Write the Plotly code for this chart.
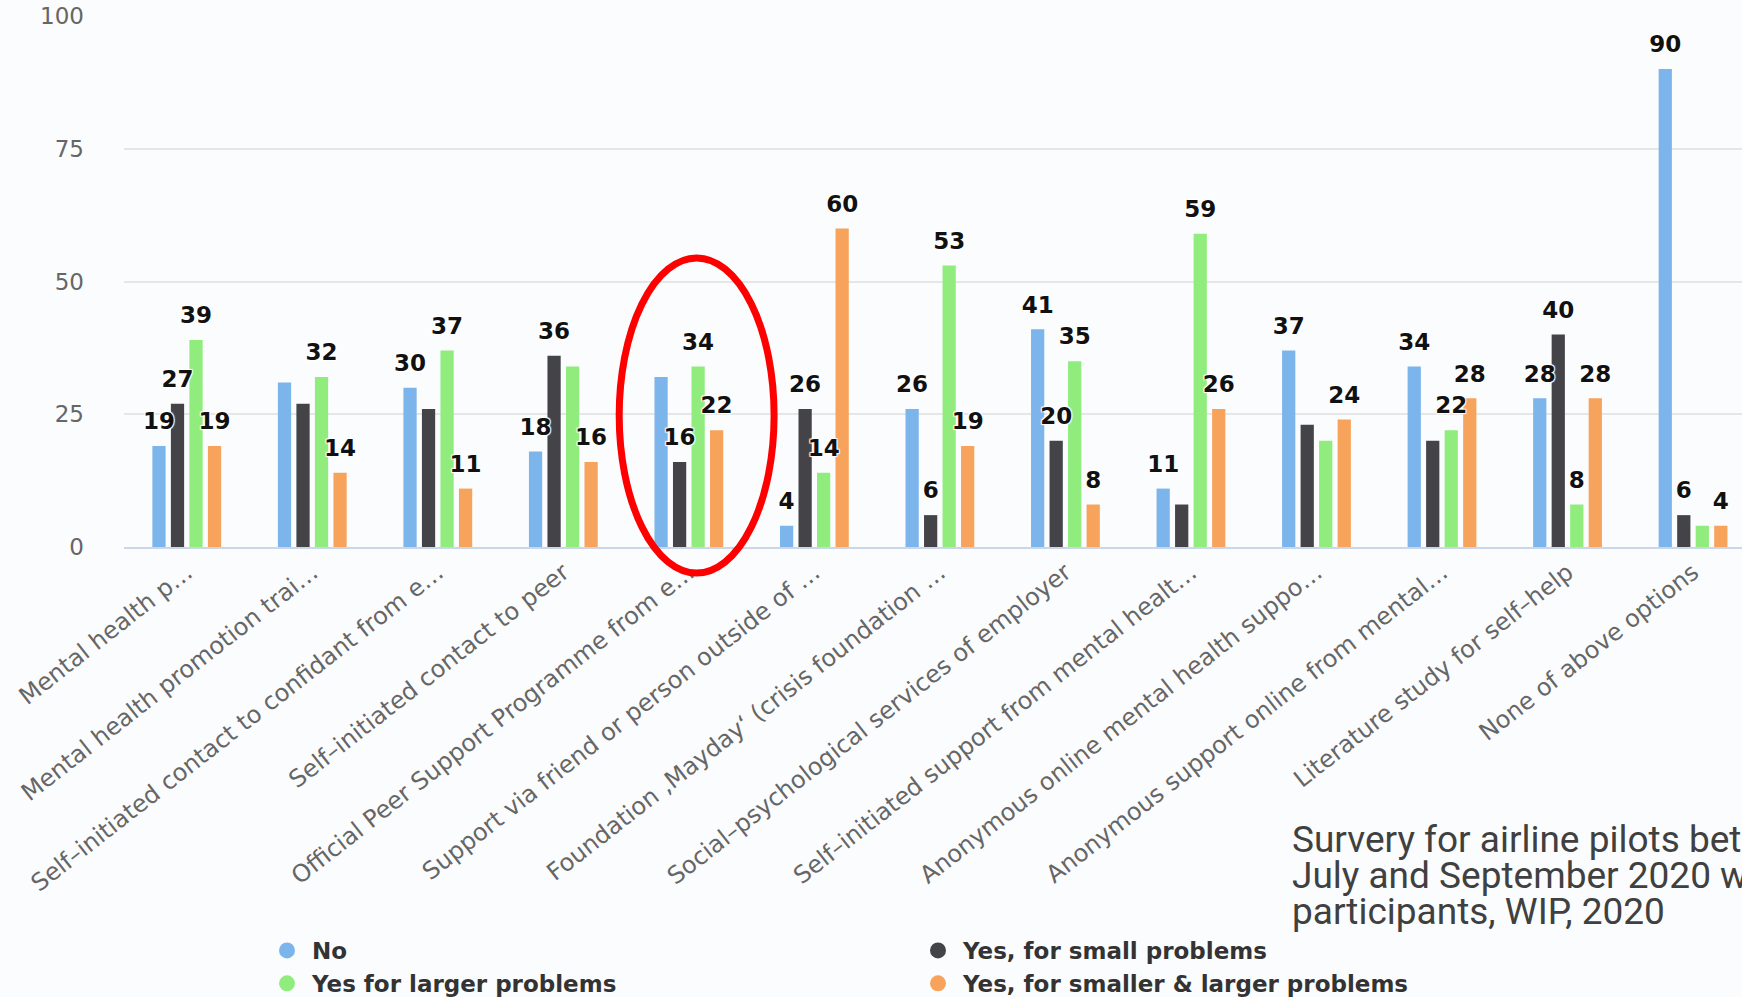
import plotly.graph_objects as go

categories = [
    "Mental health p…",
    "Mental health promotion trai…",
    "Self–initiated contact to confidant from e…",
    "Self–initiated contact to peer",
    "Official Peer Support Programme from e…",
    "Support via friend or person outside of …",
    "Foundation ‚Mayday‘ (crisis foundation …",
    "Social–psychological services of employer",
    "Self–initiated support from mental healt…",
    "Anonymous online mental health suppo…",
    "Anonymous support online from mental…",
    "Literature study for self–help",
    "None of above options",
]

series_names = ["No", "Yes, for small problems", "Yes for larger problems",
                "Yes, for smaller & larger problems"]
no_vals = [19, 31, 30, 18, 32, 4, 26, 41, 11, 37, 34, 28, 90]
small_vals = [27, 27, 26, 36, 16, 26, 6, 20, 8, 23, 20, 40, 6]
larger_vals = [39, 32, 37, 34, 34, 14, 53, 35, 59, 20, 22, 8, 4]
both_vals = [19, 14, 11, 16, 22, 60, 19, 8, 26, 24, 28, 28, 4]

# which data labels are visible in the source (others hidden by overlap)
no_shown = [1, 0, 1, 1, 0, 1, 1, 1, 1, 1, 1, 1, 1]
small_shown = [1, 0, 0, 1, 1, 1, 1, 1, 0, 0, 0, 1, 1]
larger_shown = [1, 1, 1, 0, 1, 1, 1, 1, 1, 0, 1, 1, 0]
both_shown = [1, 1, 1, 1, 1, 1, 1, 1, 1, 1, 1, 1, 1]

note_lines = ["Survery for airline pilots between",
              "July and September 2020 with",
              "participants, WIP, 2020"]

colors = ["#7cb5ec", "#434348", "#90ed7d", "#f7a35c"]
values = [no_vals, small_vals, larger_vals, both_vals]
shown = [no_shown, small_shown, larger_shown, both_shown]

W, H = 1742, 997
ML, MR, MT, MB = 124, 0, 16, 450
BARGAP = 0.41
FONT = "DejaVu Sans"

fig = go.Figure()
for i, (name, vals, col) in enumerate(zip(series_names, values, colors)):
    fig.add_trace(go.Bar(
        x=categories, y=vals, name=name, marker=dict(color=col, line_width=0),
        offsetgroup=f"s{i}", showlegend=False,
    ))
for i, (name, vals, msk) in enumerate(zip(series_names, values, shown)):
    fig.add_trace(go.Scatter(
        x=categories, y=vals, mode="markers+text",
        text=[str(v) if m else "" for v, m in zip(vals, msk)],
        textposition="top center",
        marker=dict(size=16, color="rgba(0,0,0,0)"),
        textfont=dict(family=FONT, size=23, color="#111111", weight="bold",
                      shadow="1px 1px 1px #fff, -1px -1px 1px #fff, 1px -1px 1px #fff, -1px 1px 1px #fff"),
        offsetgroup=f"s{i}", showlegend=False, hoverinfo="skip",
    ))
for i, (name, col) in enumerate(zip(series_names, colors)):
    fig.add_trace(go.Scatter(
        x=[None], y=[None], mode="markers", name=name,
        marker=dict(size=16, color=col, symbol="circle"),
        offsetgroup=f"s{i}", showlegend=True, hoverinfo="skip",
    ))

plot_w = W - ML - MR
plot_h = H - MT - MB

def px_x(p):
    return (p - ML) / plot_w

def px_y(p):
    return (H - MB - p) / plot_h

fig.update_layout(
    width=W, height=H,
    margin=dict(l=ML, r=MR, t=MT, b=MB, autoexpand=False),
    paper_bgcolor="#fbfcfd", plot_bgcolor="#fbfcfd",
    barmode="group", bargap=BARGAP, bargroupgap=0.285,
    scattermode="group", scattergap=BARGAP,
    font=dict(family=FONT, color="#666666"),
    xaxis=dict(
        type="category", range=[-0.5, 12.39], tickangle=-38,
        tickfont=dict(family=FONT, size=24, color="#666666"),
        showgrid=False, showline=True, linecolor="#ccd6eb", linewidth=2,
        ticks="", automargin=False, fixedrange=True,
    ),
    yaxis=dict(
        range=[0, 100], dtick=25, tick0=0,
        tickfont=dict(family=FONT, size=23, color="#666666"),
        showgrid=True, gridcolor="#e6e6e6", gridwidth=1.5,
        zeroline=False, showline=False, ticks="",
        ticklabelstandoff=39, automargin=False, fixedrange=True,
    ),
    legend=dict(
        orientation="h", x=px_x(262), xanchor="left", y=px_y(929), yanchor="top",
        font=dict(family=FONT, size=23, color="#333333", weight="bold"),
        entrywidth=596, entrywidthmode="pixels", itemwidth=40,
        bgcolor="rgba(0,0,0,0)", itemclick=False, itemdoubleclick=False,
        tracegroupgap=0,
    ),
    shapes=[dict(
        type="circle", xref="x", yref="paper",
        x0=3.445, x1=4.679, y0=px_y(573), y1=px_y(258),
        line=dict(color="#ff0000", width=7), fillcolor="rgba(0,0,0,0)",
    )],
    showlegend=True,
)

for k, line in enumerate(note_lines):
    fig.add_annotation(
        text=line, xref="paper", yref="paper",
        x=px_x(1290), y=px_y(863 + 36 * k), xanchor="left", yanchor="bottom",
        showarrow=False, align="left",
        font=dict(family="Liberation Sans Narrow, Roboto, sans-serif", size=37, color="#404040"),
    )

fig.write_html("out.html", config={"displayModeBar": False},
               post_script="document.body.style.margin='0';document.body.style.padding='0';")
